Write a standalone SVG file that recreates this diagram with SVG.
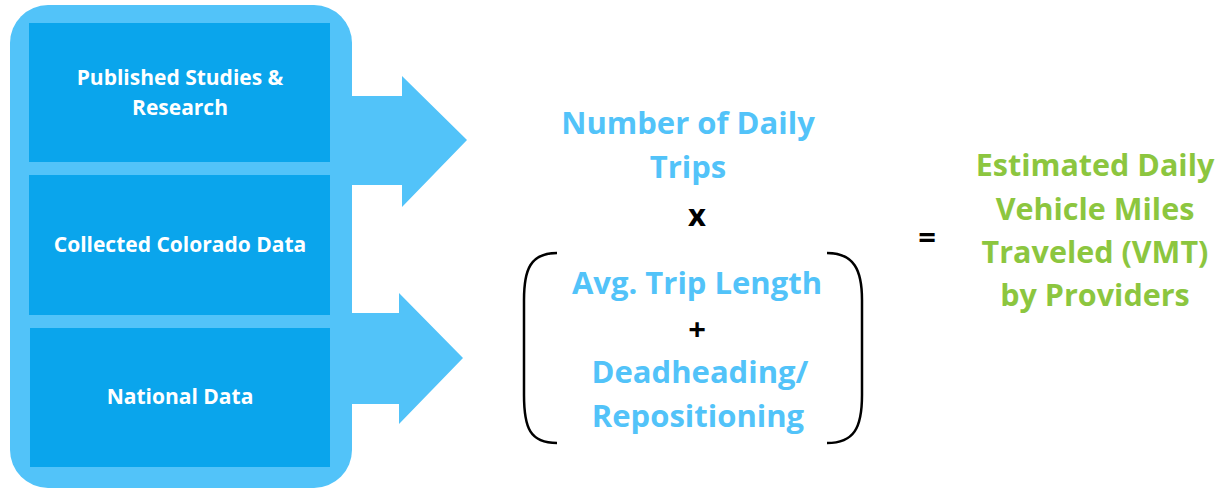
<svg xmlns="http://www.w3.org/2000/svg" width="1223" height="490" viewBox="0 0 1223 490">
<style>
.box{fill:#0AA5EC}
.wt{font-family:"Open Sans","Liberation Sans",sans-serif;font-weight:bold;font-size:21px;fill:#FFFFFF;text-anchor:middle}
.bt{font-family:"Open Sans","Liberation Sans",sans-serif;font-weight:bold;font-size:31px;fill:#52C3F9;text-anchor:middle}
.kt{font-family:"Open Sans","Liberation Sans",sans-serif;font-weight:bold;font-size:31px;fill:#000000;text-anchor:middle}
.gt{font-family:"Open Sans","Liberation Sans",sans-serif;font-weight:bold;font-size:30.5px;fill:#8CC63F;text-anchor:middle}
.arrow{fill:#52C3F9}
.brk{fill:none;stroke:#000000;stroke-width:2.5}
</style>
<rect x="0" y="0" width="1223" height="490" fill="#FFFFFF"/>
<g id="container">
<rect x="10" y="5" width="342" height="483" rx="38" fill="#52C3F9"/>
</g>
<g id="node-published">
<rect class="box" x="29" y="23" width="301" height="139"/>
<text class="wt" x="180" y="85">Published Studies &amp;</text>
<text class="wt" x="180" y="115">Research</text>
</g>
<g id="node-colorado">
<rect class="box" x="29" y="175" width="301" height="140"/>
<text class="wt" x="180" y="252">Collected Colorado Data</text>
</g>
<g id="node-national">
<rect class="box" x="30" y="328" width="300" height="139"/>
<text class="wt" x="180" y="404">National Data</text>
</g>
<g id="connectors">
<polygon class="arrow" points="351,96 402,96 402,76 467,140 402,207 402,185 351,185"/>
<polygon class="arrow" points="351,313 399,313 399,293 463,358 399,424 399,404 351,404"/>
</g>
<g id="node-formula">
<text class="bt" x="688" y="134">Number of Daily</text>
<text class="bt" x="688" y="178">Trips</text>
<text class="kt" x="697" y="226">x</text>
<path class="brk" d="M557,253 C530,253 524,270 524,300 L524,395 C524,428 530,443 557,443"/>
<path class="brk" d="M827,253 C854,253 862,270 862,300 L862,395 C862,428 854,443 827,443"/>
<text class="bt" x="697" y="294">Avg. Trip Length</text>
<text class="kt" x="697" y="340">+</text>
<text class="bt" x="700" y="383">Deadheading/</text>
<text class="bt" x="698" y="427">Repositioning</text>
</g>
<g id="node-equals">
<text class="kt" x="927" y="248">=</text>
</g>
<g id="node-result">
<text class="gt" x="1095" y="176">Estimated Daily</text>
<text class="gt" x="1095" y="220">Vehicle Miles</text>
<text class="gt" x="1095" y="263">Traveled (VMT)</text>
<text class="gt" x="1095" y="306">by Providers</text>
</g>
</svg>
